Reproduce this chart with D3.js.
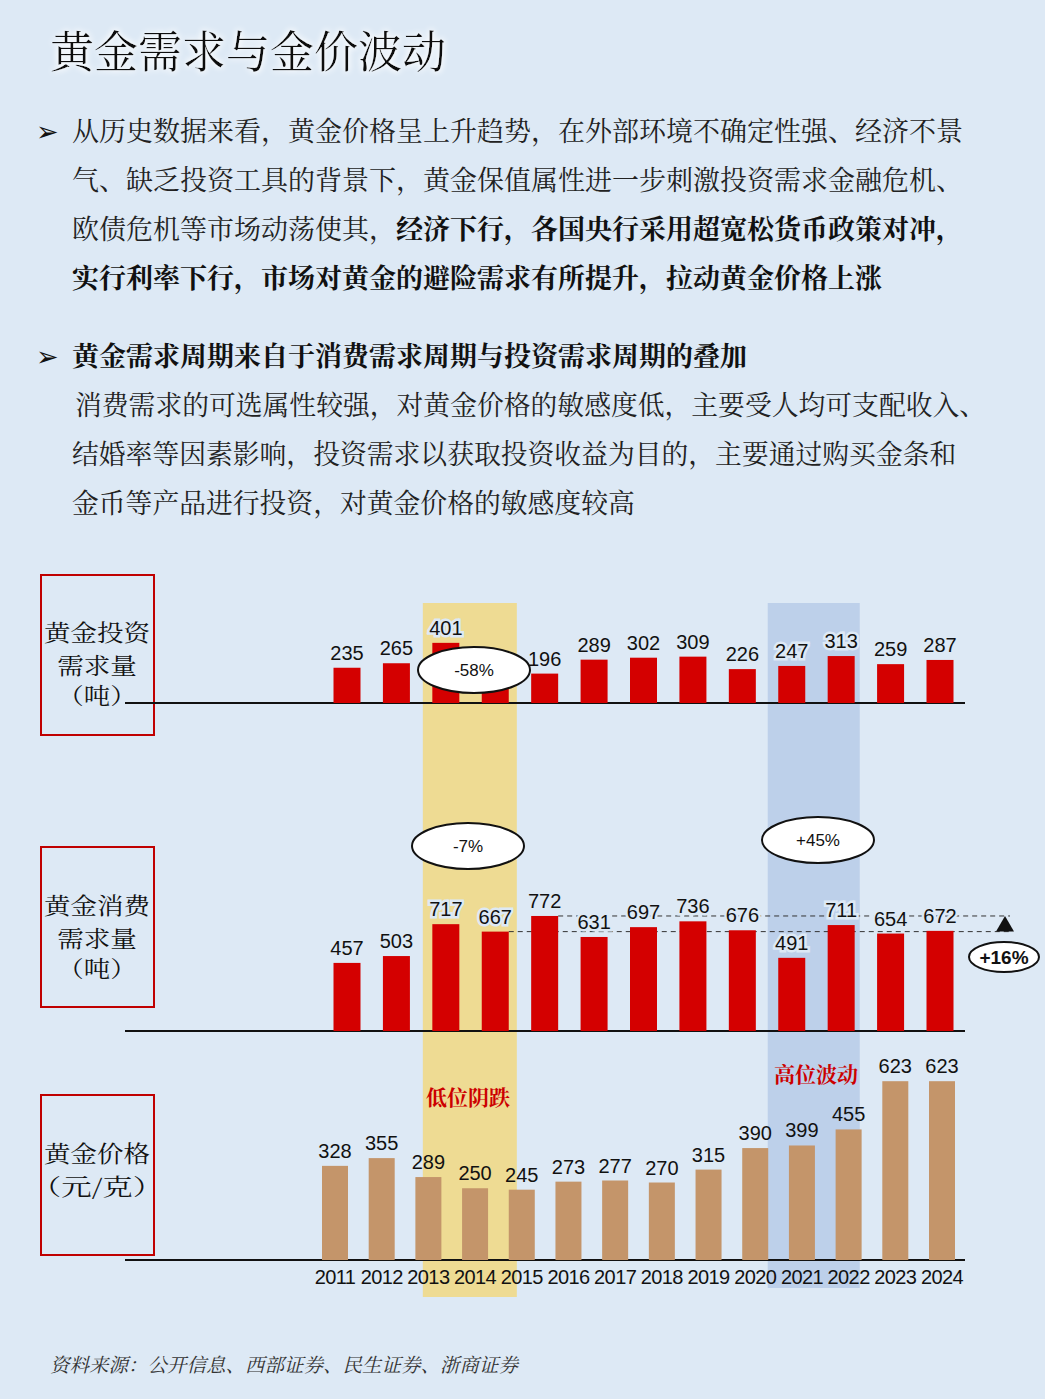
<!DOCTYPE html>
<html>
<head>
<meta charset="utf-8">
<script src="https://cdn.jsdelivr.net/npm/d3@7"></script>
<style>
  body { margin: 0; background: #dde9f5; }
  svg { display: block; }
</style>
</head>
<body>
<div id="graph"></div>
<script>
/*******************************************************************************
* Data
*******************************************************************************/
var priceYears = ['2011','2012','2013','2014','2015','2016','2017','2018','2019','2020','2021','2022','2023','2024'];
var demandYears = ['2011','2012','2013','2014','2015','2016','2017','2018','2019','2020','2021','2022','2023'];
var investValues = [235, 265, 401, 168, 196, 289, 302, 309, 226, 247, 313, 259, 287];
var investLabels = ['235','265','401','','196','289','302','309','226','247','313','259','287'];
var consumeValues = [457, 503, 717, 667, 772, 631, 697, 736, 676, 491, 711, 654, 672];
var priceValues = [328, 355, 289, 250, 245, 273, 277, 270, 315, 390, 399, 455, 623, 623];

var titleText = '黄金需求与金价波动';
var para1 = [
  [['从历史数据来看，黄金价格呈上升趋势，在外部环境不确定性强、经济不景', false]],
  [['气、缺乏投资工具的背景下，黄金保值属性进一步刺激投资需求金融危机、', false]],
  [['欧债危机等市场动荡使其，', false], ['经济下行，各国央行采用超宽松货币政策对冲，', true]],
  [['实行利率下行，市场对黄金的避险需求有所提升，拉动黄金价格上涨', true]]
];
var para2Head = '黄金需求周期来自于消费需求周期与投资需求周期的叠加';
var para2 = [
  '消费需求的可选属性较强，对黄金价格的敏感度低，主要受人均可支配收入、',
  '结婚率等因素影响，投资需求以获取投资收益为目的，主要通过购买金条和',
  '金币等产品进行投资，对黄金价格的敏感度较高'
];
var sourceText = '资料来源：公开信息、西部证券、民生证券、浙商证券';

/*******************************************************************************
* Svg Container
*******************************************************************************/
var W = 1045, H = 1399;
var cjk = '"Noto Serif CJK SC", "Noto Sans CJK SC", serif';
var num = '"Liberation Sans", Arial, sans-serif';
var red = '#d40000', tan = '#c4956a';

var svg = d3.select('#graph').append('svg')
  .attr('width', W)
  .attr('height', H);

svg.append('rect').attr('width', W).attr('height', H).attr('fill', '#dde9f5');

var defs = svg.append('defs');
var glow = defs.append('filter').attr('id', 'glow')
  .attr('x', '-10%').attr('y', '-30%').attr('width', '120%').attr('height', '160%');
glow.append('feGaussianBlur').attr('in', 'SourceAlpha').attr('stdDeviation', 3).attr('result', 'b');
glow.append('feFlood').attr('flood-color', '#ffffff');
glow.append('feComposite').attr('in2', 'b').attr('operator', 'in').attr('result', 'w');
var fm = glow.append('feMerge');
fm.append('feMergeNode').attr('in', 'w');
fm.append('feMergeNode').attr('in', 'w');
fm.append('feMergeNode').attr('in', 'SourceGraphic');

/*******************************************************************************
* Title and text
*******************************************************************************/
svg.append('text')
  .attr('x', 50).attr('y', 68)
  .attr('font-family', cjk).attr('font-size', 44)
  .attr('fill', '#111').attr('filter', 'url(#glow)')
  .text(titleText);

function bullet(y) {
  svg.append('text')
    .attr('x', 36).attr('y', y)
    .attr('font-family', '"DejaVu Sans", sans-serif').attr('font-size', 27)
    .attr('fill', '#111')
    .text('➢');
}

bullet(141);
para1.forEach(function(line, i) {
  var t = svg.append('text')
    .attr('x', 72).attr('y', 141 + i * 49)
    .attr('font-family', cjk).attr('font-size', 27).attr('fill', '#222');
  line.forEach(function(seg) {
    t.append('tspan')
      .attr('font-weight', seg[1] ? 'bold' : 'normal')
      .attr('fill', seg[1] ? '#111' : '#222')
      .text(seg[0]);
  });
});

bullet(366);
svg.append('text')
  .attr('x', 72).attr('y', 366)
  .attr('font-family', cjk).attr('font-size', 27).attr('font-weight', 'bold')
  .attr('fill', '#111')
  .text(para2Head);

para2.forEach(function(line, i) {
  svg.append('text')
    .attr('x', i === 0 ? 75 : 72).attr('y', 415 + i * 49)
    .attr('font-family', cjk).attr('font-size', 26.8).attr('fill', '#222')
    .text(line);
});

/*******************************************************************************
* Scales
*******************************************************************************/
var xDemand = d3.scalePoint().domain(demandYears).range([347, 940]);
var xPrice = d3.scalePoint().domain(priceYears).range([335, 942]);
var demandW = 27, priceW = 26;

var axis1 = 703, axis2 = 1031, axis3 = 1260;
var yInvest = d3.scaleLinear().domain([0, 1000]).range([axis1, axis1 - 150]);
var yConsume = d3.scaleLinear().domain([0, 1000]).range([axis2, axis2 - 149]);
var yPrice = d3.scaleLinear().domain([0, 1000]).range([axis3, axis3 - 287]);

/*******************************************************************************
* Highlight bands
*******************************************************************************/
svg.append('rect')
  .attr('x', xDemand('2013') - 23).attr('y', 603)
  .attr('width', 94).attr('height', 694)
  .attr('fill', '#eedb93');
svg.append('rect')
  .attr('x', xDemand('2020') - 24).attr('y', 603)
  .attr('width', 92).attr('height', 685)
  .attr('fill', '#bdd0ea');

/*******************************************************************************
* Side label boxes
*******************************************************************************/
var boxes = [
  { y: 575, lines: ['黄金投资', '需求量', '（吨）'], dy: [641, 674, 704] },
  { y: 847, lines: ['黄金消费', '需求量', '（吨）'], dy: [914, 947, 977] },
  { y: 1095, lines: ['黄金价格', '（元/克）'], dy: [1162, 1195] }
];
boxes.forEach(function(b) {
  svg.append('rect')
    .attr('x', 41).attr('y', b.y).attr('width', 113).attr('height', 160)
    .attr('fill', 'none').attr('stroke', '#c00000').attr('stroke-width', 2);
  b.lines.forEach(function(l, i) {
    svg.append('text')
      .attr('x', 97).attr('y', b.dy[i])
      .attr('text-anchor', 'middle')
      .attr('font-family', cjk).attr('font-size', 22.5)
      .attr('textLength', l.length * 26.5).attr('lengthAdjust', 'spacingAndGlyphs')
      .attr('fill', '#111')
      .text(l);
  });
});

/*******************************************************************************
* Axis lines
*******************************************************************************/
[axis1, axis2, axis3].forEach(function(y) {
  svg.append('line')
    .attr('x1', 125).attr('x2', 965).attr('y1', y).attr('y2', y)
    .attr('stroke', '#111').attr('stroke-width', 2);
});

/*******************************************************************************
* Dashed reference lines (consumption)
*******************************************************************************/
var arrowX = 1005;
var hiY = yConsume(consumeValues[4]), loY = yConsume(consumeValues[3]);
svg.append('line')
  .attr('x1', xDemand('2015') + demandW / 2).attr('x2', arrowX + 5)
  .attr('y1', hiY).attr('y2', hiY)
  .attr('stroke', '#333').attr('stroke-dasharray', '5,4');
svg.append('line')
  .attr('x1', xDemand('2014') + demandW / 2).attr('x2', arrowX + 5)
  .attr('y1', loY).attr('y2', loY)
  .attr('stroke', '#333').attr('stroke-dasharray', '5,4');

/*******************************************************************************
* Bars
*******************************************************************************/
function drawBars(values, x, y, yrs, w, color) {
  svg.append('g').selectAll('rect')
    .data(values)
    .enter()
    .append('rect')
    .attr('x', function(d, i) { return x(yrs[i]) - w / 2; })
    .attr('y', function(d) { return y(d); })
    .attr('width', w)
    .attr('height', function(d) { return y(0) - y(d); })
    .attr('fill', color);
}

function drawLabels(labels, values, x, y, yrs) {
  svg.append('g').selectAll('text')
    .data(labels)
    .enter()
    .append('text')
    .attr('x', function(d, i) { return x(yrs[i]); })
    .attr('y', function(d, i) { return y(values[i]) - 8; })
    .attr('text-anchor', 'middle')
    .attr('font-family', num).attr('font-size', 20).attr('fill', '#111')
    .attr('stroke', '#dde9f5').attr('stroke-width', 5).attr('paint-order', 'stroke')
    .text(function(d) { return d; });
}

drawBars(investValues, xDemand, yInvest, demandYears, demandW, red);
drawBars(consumeValues, xDemand, yConsume, demandYears, demandW, red);
drawBars(priceValues, xPrice, yPrice, priceYears, priceW, tan);

drawLabels(investLabels, investValues, xDemand, yInvest, demandYears);
drawLabels(consumeValues.map(String), consumeValues, xDemand, yConsume, demandYears);
// price labels sit on bands too, no halo there
svg.append('g').selectAll('text')
  .data(priceValues)
  .enter()
  .append('text')
  .attr('x', function(d, i) { return xPrice(priceYears[i]); })
  .attr('y', function(d) { return yPrice(d) - 8; })
  .attr('text-anchor', 'middle')
  .attr('font-family', num).attr('font-size', 20).attr('fill', '#111')
  .text(function(d) { return d; });

// year ticks
svg.append('g').selectAll('text')
  .data(priceYears)
  .enter()
  .append('text')
  .attr('x', function(d) { return xPrice(d); })
  .attr('y', axis3 + 24)
  .attr('text-anchor', 'middle')
  .attr('font-family', num).attr('font-size', 20).attr('fill', '#111')
  .attr('letter-spacing', -0.6)
  .text(function(d) { return d; });

/*******************************************************************************
* Annotations
*******************************************************************************/
function bubble(cx, cy, rx, ry, label, size, bold) {
  svg.append('ellipse')
    .attr('cx', cx).attr('cy', cy).attr('rx', rx).attr('ry', ry)
    .attr('fill', '#fff').attr('stroke', '#111').attr('stroke-width', 2);
  svg.append('text')
    .attr('x', cx).attr('y', cy + size * 0.36)
    .attr('text-anchor', 'middle')
    .attr('font-family', num).attr('font-size', size)
    .attr('font-weight', bold ? 'bold' : 'normal').attr('fill', '#111')
    .text(label);
}

bubble(474, 670, 56, 23, '-58%', 17, false);
bubble(468, 846, 56, 23, '-7%', 17, false);
bubble(818, 840, 56, 23, '+45%', 17, false);
bubble(1004, 957, 35, 15, '+16%', 19, true);

svg.append('path')
  .attr('d', d3.line()([[arrowX - 9, loY], [arrowX, hiY], [arrowX + 9, loY]]) + 'Z')
  .attr('fill', '#111');

svg.append('text')
  .attr('x', 468).attr('y', 1105)
  .attr('text-anchor', 'middle')
  .attr('font-family', cjk).attr('font-size', 21).attr('font-weight', 'bold')
  .attr('fill', '#cc0000')
  .text('低位阴跌');
svg.append('text')
  .attr('x', 816).attr('y', 1082)
  .attr('text-anchor', 'middle')
  .attr('font-family', cjk).attr('font-size', 21).attr('font-weight', 'bold')
  .attr('fill', '#cc0000')
  .text('高位波动');

/*******************************************************************************
* Source
*******************************************************************************/
svg.append('text')
  .attr('x', 50).attr('y', 1372)
  .attr('font-family', cjk).attr('font-size', 19.5)
  .attr('font-style', 'italic').attr('fill', '#333')
  .text(sourceText);
</script>
</body>
</html>
